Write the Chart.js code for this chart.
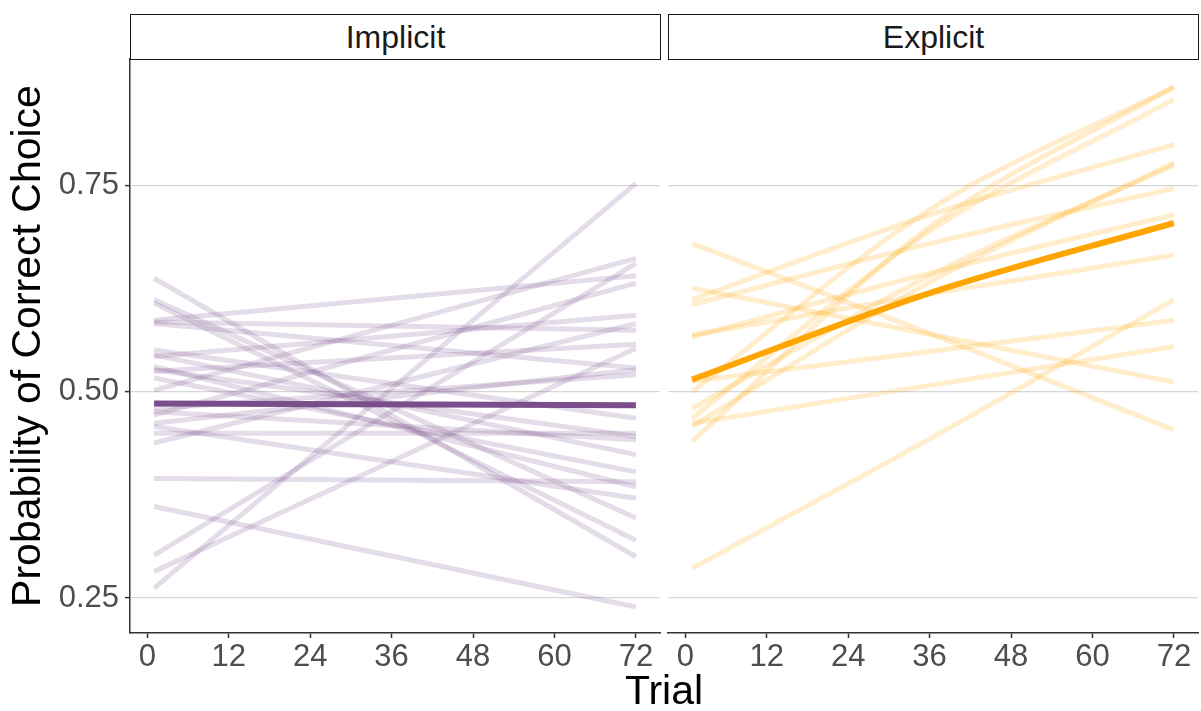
<!DOCTYPE html>
<html>
<head>
<meta charset="utf-8">
<script src="https://cdn.jsdelivr.net/npm/chart.js@4.4.1/dist/chart.umd.min.js"></script>
<style>
  html, body { margin: 0; padding: 0; background: #fff; }
  #wrap { position: relative; width: 1201px; height: 711px; font-family: "Liberation Sans", Arial, sans-serif; }
  canvas { position: absolute; top: 0; }
  .strip {
    position: absolute; top: 14px; height: 46px; box-sizing: border-box;
    border: 1.5px solid #1a1a1a; background: #fff;
    display: flex; align-items: center; justify-content: center;
    font-size: 32px; color: #1a1a1a;
  }
  #xtitle {
    position: absolute; left: 130px; width: 1068px; top: 667px;
    text-align: center; font-size: 41px; line-height: 46px; color: #000;
  }
</style>
</head>
<body>
<div id="wrap">
  <canvas id="implicitChart" width="662" height="711" style="left:0"></canvas>
  <canvas id="explicitChart" width="535" height="711" style="left:666px"></canvas>
  <div class="strip" style="left:130px;width:531px">Implicit</div>
  <div class="strip" style="left:668px;width:531px">Explicit</div>
  <div id="xtitle">Trial</div>
</div>
<script>
// axis ticks
const xTicks = [0, 12, 24, 36, 48, 60, 72];
const yTicks = [0.25, 0.50, 0.75];

// Implicit: per-participant fitted lines, trial 1 -> trial 72
const implicitTrials = [1, 72];
const implicitStart = [0.638, 0.612, 0.608, 0.587, 0.585, 0.583, 0.551, 0.545, 0.543, 0.531, 0.527, 0.525, 0.517,
  0.502, 0.480, 0.476, 0.472, 0.462, 0.458, 0.450, 0.438, 0.395, 0.361, 0.302, 0.282, 0.262];
const implicitEnd = [0.300, 0.347, 0.320, 0.641, 0.575, 0.529, 0.468, 0.424, 0.593, 0.385, 0.446, 0.558, 0.403,
  0.662, 0.521, 0.442, 0.632, 0.527, 0.371, 0.450, 0.583, 0.391, 0.239, 0.656, 0.553, 0.753];
const implicitMean = [0.486, 0.484];

// Explicit: per-participant fitted curves at trial 1, 36, 72
const explicitTrials = [1, 36, 72];
const explicitT1 = [0.680, 0.626, 0.612, 0.606, 0.569, 0.567, 0.513, 0.462, 0.500, 0.440, 0.468, 0.480, 0.458, 0.286];
const explicitT36 = [0.571, 0.570, 0.715, 0.680, 0.619, 0.644, 0.549, 0.508, 0.721, 0.700, 0.695, 0.641, 0.633, 0.443];
const explicitT72 = [0.454, 0.512, 0.800, 0.747, 0.666, 0.715, 0.587, 0.555, 0.870, 0.870, 0.855, 0.775, 0.778, 0.612];
const explicitMean = [0.515, 0.620, 0.705];

const PURPLE = '#7a4e8a';
const PURPLE_FAINT = 'rgba(122, 78, 138, 0.2)';
const ORANGE = '#ffa500';
const ORANGE_FAINT = 'rgba(255, 165, 0, 0.2)';
const FONT = '"Liberation Sans", Arial, sans-serif';

function lineDataset(trials, values, color, width, order) {
  return {
    data: trials.map((t, i) => ({ x: t, y: values[i] })),
    borderColor: color,
    borderWidth: width,
    pointRadius: 0,
    fill: false,
    cubicInterpolationMode: 'monotone',
    order,
  };
}

function panelOptions(showY) {
  const y = {
    type: 'linear',
    min: 0.2075,
    max: 0.904,
    afterBuildTicks: (s) => { s.ticks = yTicks.map(v => ({ value: v })); },
    afterFit: (s) => { s.width = showY ? 130 : 0; },
    grid: { color: '#d6d6d6', lineWidth: 1.2, drawTicks: showY, tickLength: 5, tickColor: '#333', tickWidth: 1.5 },
    border: { display: showY, color: '#333', width: 1.5 },
    ticks: {
      display: showY,
      font: { size: 31, family: FONT },
      color: '#4d4d4d',
      padding: 6,
      callback: (v) => Number(v).toFixed(2),
    },
    title: {
      display: showY,
      text: 'Probability of Correct Choice',
      font: { size: 41, family: FONT },
      color: '#000',
      padding: { top: 4, bottom: 0 },
    },
  };
  return {
    responsive: false,
    animation: false,
    devicePixelRatio: 1,
    layout: { padding: showY ? { top: 59, right: 2, left: 0, bottom: 0 } : { top: 59, right: 3, left: 2, bottom: 0 } },
    plugins: { legend: { display: false }, tooltip: { enabled: false } },
    scales: {
      x: {
        type: 'linear',
        min: -2.55,
        max: 75.55,
        afterBuildTicks: (s) => { s.ticks = xTicks.map(v => ({ value: v })); },
        afterFit: (s) => { s.height = 78; },
        grid: { drawOnChartArea: false, drawTicks: true, tickLength: 5, tickColor: '#333', tickWidth: 1.5 },
        border: { display: true, color: '#333', width: 1.5 },
        ticks: {
          font: { size: 31, family: FONT },
          color: '#4d4d4d',
          padding: 1,
          maxRotation: 0,
          autoSkip: false,
          callback: (v) => String(v),
        },
      },
      y,
    },
  };
}

const implicitSets = [lineDataset(implicitTrials, implicitMean, PURPLE, 6, 0)];
implicitStart.forEach((v, i) => {
  implicitSets.push(lineDataset(implicitTrials, [v, implicitEnd[i]], PURPLE_FAINT, 5, 1));
});

const explicitSets = [lineDataset(explicitTrials, explicitMean, ORANGE, 6, 0)];
explicitT1.forEach((v, i) => {
  explicitSets.push(lineDataset(explicitTrials, [v, explicitT36[i], explicitT72[i]], ORANGE_FAINT, 5, 1));
});

new Chart(document.getElementById('implicitChart'), {
  type: 'line',
  data: { datasets: implicitSets },
  options: panelOptions(true),
});

new Chart(document.getElementById('explicitChart'), {
  type: 'line',
  data: { datasets: explicitSets },
  options: panelOptions(false),
});
</script>
</body>
</html>
